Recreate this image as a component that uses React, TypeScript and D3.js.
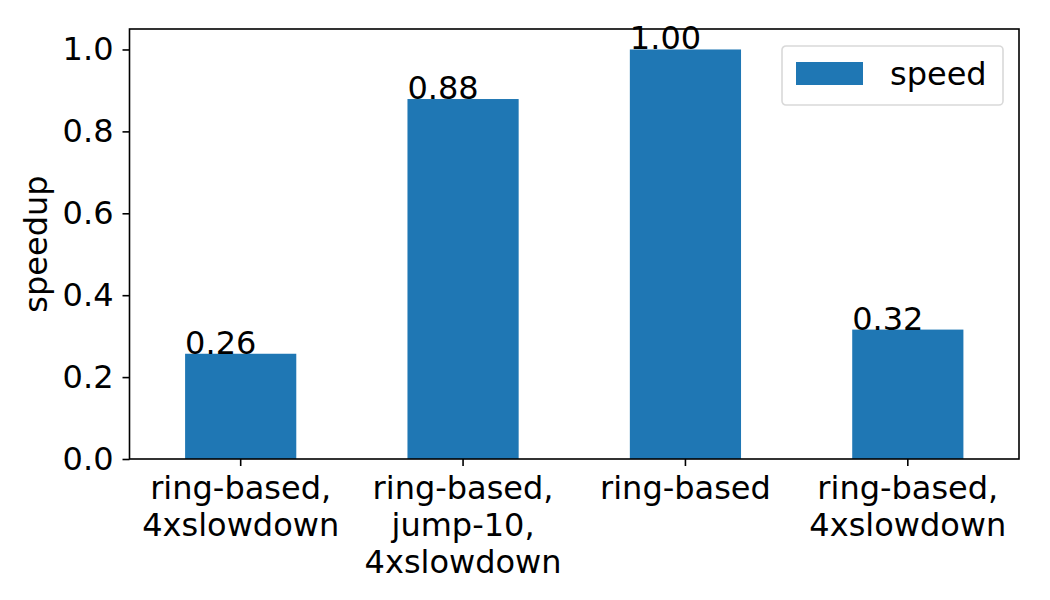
import React, { useEffect, useRef } from 'react';
import * as d3 from 'd3';

// speedup per configuration
const categories: string[][] = [
  ['ring-based,', '4xslowdown'],
  ['ring-based,', 'jump-10,', '4xslowdown'],
  ['ring-based'],
  ['ring-based,', '4xslowdown'],
];
const speed: number[] = [0.257, 0.879, 1.0, 0.316];
const yTicks: number[] = [0, 0.2, 0.4, 0.6, 0.8, 1.0];
const seriesName = 'speed';

const width = 1050;
const height = 600;
const margin = { top: 29, right: 31, bottom: 141, left: 129.5 };
const barColor = '#1f77b4';
const font = 'DejaVu Sans, sans-serif';
const fontSize = 32;

const App = () => {
  const ref = useRef<SVGSVGElement>(null);

  useEffect(() => {
    const svg = d3.select(ref.current);
    svg.selectAll('*').remove();

    const innerW = width - margin.left - margin.right;
    const innerH = height - margin.top - margin.bottom;

    const x = d3.scaleLinear().domain([-0.5, categories.length - 0.5]).range([0, innerW]);
    const y = d3.scaleLinear().domain([0, 1.05]).range([innerH, 0]);

    const g = svg.append('g').attr('transform', `translate(${margin.left},${margin.top})`);

    // bars
    g.selectAll('rect.bar')
      .data(speed)
      .enter()
      .append('rect')
      .attr('class', 'bar')
      .attr('x', (_, i) => x(i - 0.25))
      .attr('width', x(0.25) - x(-0.25))
      .attr('y', (d) => y(d))
      .attr('height', (d) => innerH - y(d))
      .attr('fill', barColor);

    // value labels, left edge of each bar
    g.selectAll('text.val')
      .data(speed)
      .enter()
      .append('text')
      .attr('class', 'val')
      .attr('x', (_, i) => x(i - 0.25))
      .attr('y', (d) => y(d))
      .attr('font-family', font)
      .attr('font-size', fontSize)
      .attr('fill', '#000')
      .text((d) => d3.format('.2f')(d));

    // y axis
    const yAxis = g.append('g').call(
      d3.axisLeft(y).tickValues(yTicks).tickFormat(d3.format('.1f')).tickSize(7).tickPadding(9)
    );
    yAxis.select('.domain').remove();
    yAxis.selectAll('line').attr('stroke', '#000').attr('stroke-width', 1.6);
    yAxis.selectAll('text').attr('font-family', font).attr('font-size', fontSize).attr('fill', '#000');

    // x axis ticks and multi-line labels
    const xAxis = g.append('g').attr('transform', `translate(0,${innerH})`);
    categories.forEach((lines, i) => {
      xAxis.append('line')
        .attr('x1', x(i)).attr('x2', x(i))
        .attr('y1', 0).attr('y2', 7)
        .attr('stroke', '#000').attr('stroke-width', 1.6);
      const t = xAxis.append('text')
        .attr('text-anchor', 'middle')
        .attr('font-family', font)
        .attr('font-size', fontSize)
        .attr('fill', '#000');
      lines.forEach((line, j) => {
        t.append('tspan')
          .attr('x', x(i))
          .attr('y', 40 + j * 36.8)
          .text(line);
      });
    });

    // frame
    g.append('rect')
      .attr('width', innerW)
      .attr('height', innerH)
      .attr('fill', 'none')
      .attr('stroke', '#000')
      .attr('stroke-width', 1.6);

    // y label
    svg.append('text')
      .attr('transform', `translate(47,${margin.top + innerH / 2}) rotate(-90)`)
      .attr('text-anchor', 'middle')
      .attr('font-family', font)
      .attr('font-size', fontSize)
      .attr('fill', '#000')
      .text('speedup');

    // legend
    const lg = svg.append('g').attr('transform', 'translate(782,46)');
    lg.append('rect')
      .attr('width', 221)
      .attr('height', 59)
      .attr('rx', 4)
      .attr('fill', '#fff')
      .attr('fill-opacity', 0.8)
      .attr('stroke', '#d9d9d9')
      .attr('stroke-width', 1.6);
    lg.append('rect')
      .attr('x', 14)
      .attr('y', 16)
      .attr('width', 67)
      .attr('height', 23)
      .attr('fill', barColor);
    lg.append('text')
      .attr('x', 108)
      .attr('y', 39)
      .attr('font-family', font)
      .attr('font-size', fontSize)
      .attr('fill', '#000')
      .text(seriesName);
  }, []);

  return (
    <svg
      ref={ref}
      width={width}
      height={height}
      style={{ position: 'absolute', left: 0, top: 0, background: '#fff' }}
    />
  );
};

export default App;
